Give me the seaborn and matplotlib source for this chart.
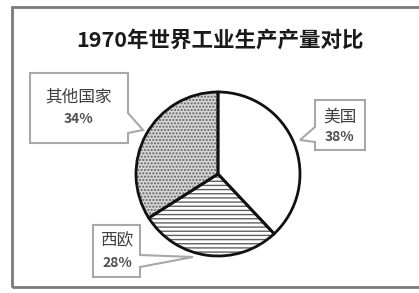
import matplotlib
matplotlib.use("Agg")
import matplotlib.pyplot as plt
import seaborn as sns
from matplotlib.patches import Polygon, Rectangle

# data
regions = ["美国", "西欧", "其他国家"]
shares = [38, 28, 34]
face_colors = ["white", "white", "#d6d6d6"]
hatches = ["", "----", "....."]

title = "1970年世界工业生产产量对比"

sns.set_theme(style="white")
plt.rcParams['font.family'] = ['Noto Sans CJK SC', 'DejaVu Sans']
plt.rcParams['hatch.linewidth'] = 1.0

W, H = 419, 293


def Y(y):
    # pixel row -> data y (y axis points up)
    return H - y


fig = plt.figure(figsize=(W / 100, H / 100), dpi=100)
ax = fig.add_axes([0, 0, 1, 1])

cx, cy, r = 218, 174, 82

# hatched fill first, then black outlines on top
wedges, _ = ax.pie(shares, startangle=90, counterclock=False,
                   center=(cx, Y(cy)), radius=r, colors=face_colors,
                   wedgeprops=dict(linewidth=0, edgecolor="#606060"))
for w, h in zip(wedges, hatches):
    w.set_hatch(h)
ax.pie(shares, startangle=90, counterclock=False,
       center=(cx, Y(cy)), radius=r,
       wedgeprops=dict(fill=False, linewidth=2.0, edgecolor="#111111"))

ax.set_xlim(0, W)
ax.set_ylim(0, H)
ax.set_aspect("equal")
ax.axis("off")

# outer frame
ax.add_patch(Rectangle((12, Y(287)), 420, 280, fill=False,
                       edgecolor="#7a7a7a", linewidth=2.0, clip_on=False))

ax.text(220, Y(40), title, ha="center", va="center", fontsize=15.5,
        fontweight="bold", color="#1a1a1a")

# callouts: box outline with pointer towards the pie
callouts = {
    "其他国家": dict(pts=[(30, 73), (128, 73), (128, 113), (143, 130),
                      (128, 133), (128, 143), (30, 143)],
                 txt=(79, 97), pct=(79, 119)),
    "美国": dict(pts=[(315, 100), (365, 100), (365, 150), (315, 150),
                    (315, 142), (300, 140), (315, 127)],
               txt=(340, 117), pct=(340, 137)),
    "西欧": dict(pts=[(93, 225), (140, 225), (140, 255), (193, 257),
                    (140, 267), (140, 277), (93, 277)],
               txt=(117, 241), pct=(117, 263)),
}

for name, val in zip(regions, shares):
    c = callouts[name]
    poly = Polygon([(x, Y(y)) for x, y in c["pts"]], closed=True,
                   facecolor="white", edgecolor="#a8a8a8", linewidth=1.5)
    ax.add_patch(poly)
    ax.text(c["txt"][0], Y(c["txt"][1]), name, ha="center", va="center",
            fontsize=12, color="#404040")
    ax.text(c["pct"][0], Y(c["pct"][1]), f"{val}%", ha="center", va="center",
            fontsize=10, fontweight="bold", color="#505050")

fig.savefig("out.png", dpi=100)
